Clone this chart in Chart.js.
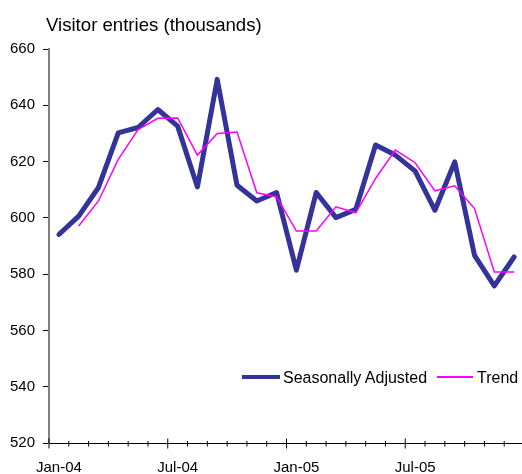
<!DOCTYPE html>
<html>
<head>
<meta charset="utf-8">
<script src="https://cdn.jsdelivr.net/npm/chart.js@4.4.1/dist/chart.umd.min.js"></script>
<style>
  html, body { margin: 0; padding: 0; background: #ffffff; overflow: hidden; width: 522px; height: 474px; }
  #wrap { position: absolute; left: 0; top: 0; width: 530px; height: 474px; }
  .txt { position: absolute; font-family: Arial, "Liberation Sans", sans-serif; color: #000; white-space: nowrap; }
  #title { left: 46px; top: 16px; font-size: 18.6px; line-height: 18px; }
  .leg { position: absolute; }
</style>
</head>
<body>
<div id="wrap"><canvas id="c"></canvas></div>
<div id="title" class="txt">Visitor entries (thousands)</div>
<div class="leg" style="left:242px; top:375px; width:38px; height:4px; background:#333399;"></div>
<div class="txt" style="left:283px; top:370px; font-size:16px; line-height:16px;">Seasonally Adjusted</div>
<div class="leg" style="left:437px; top:376px; width:36px; height:1.5px; background:#ff00ff;"></div>
<div class="txt" style="left:477px; top:370px; font-size:16px; line-height:16px;">Trend</div>
<script>
const months = ['Jan-04','Feb-04','Mar-04','Apr-04','May-04','Jun-04','Jul-04','Aug-04','Sep-04','Oct-04','Nov-04','Dec-04',
                'Jan-05','Feb-05','Mar-05','Apr-05','May-05','Jun-05','Jul-05','Aug-05','Sep-05','Oct-05','Nov-05','Dec-05'];
const seasonallyAdjusted = [594.1, 600.6, 610.8, 630.2, 632.1, 638.5, 632.6, 611.0, 649.2, 611.6, 606.0, 609.0,
                            581.4, 609.0, 600.1, 603.0, 625.9, 622.3, 616.6, 602.7, 619.9, 586.7, 575.8, 586.1];
const trend = [null, 597.1, 606.0, 620.8, 631.4, 635.4, 635.5, 622.3, 630.0, 630.5, 608.9, 607.5,
               595.3, 595.3, 603.9, 601.8, 614.0, 624.1, 619.6, 609.6, 611.4, 603.3, 580.8, 580.8];
const xTickLabels = ['Jan-04','Jul-04','Jan-05','Jul-05'];
const yMin = 520, yMax = 660, yStep = 20;

const FONT = 'Arial, "Liberation Sans", sans-serif';

const xTickMarks = {
  id: 'xTickMarks',
  afterDraw(chart) {
    const xs = chart.scales.x;
    const ctx = chart.ctx;
    const y0 = Math.round(xs.top) + 0.5;
    const step = xs.getPixelForValue(1) - xs.getPixelForValue(0);
    ctx.save();
    ctx.strokeStyle = '#000';
    ctx.lineWidth = 1;
    for (let i = 0; i <= months.length; i++) {
      const px = xs.getPixelForValue(i) - step / 2;
      const major = i % 6 === 0;
      ctx.beginPath();
      ctx.moveTo(px, y0 - (major ? 5 : 2.5));
      ctx.lineTo(px, y0 + (major ? 5 : 3));
      ctx.stroke();
    }
    ctx.restore();
  }
};

new Chart(document.getElementById('c'), {
  type: 'line',
  data: {
    labels: months,
    datasets: [
      {
        label: 'Seasonally Adjusted',
        data: seasonallyAdjusted,
        borderColor: '#333399',
        borderWidth: 5,
        pointRadius: 0,
        tension: 0,
        borderCapStyle: 'round',
        borderJoinStyle: 'round',
        order: 2
      },
      {
        label: 'Trend',
        data: trend,
        borderColor: '#ff00ff',
        borderWidth: 1.5,
        pointRadius: 0,
        tension: 0,
        spanGaps: false,
        order: 1
      }
    ]
  },
  options: {
    responsive: true,
    maintainAspectRatio: false,
    animation: false,
    events: [],
    layout: { padding: { top: 49, right: 6, bottom: 0, left: 0 } },
    plugins: { legend: { display: false }, title: { display: false }, tooltip: { enabled: false } },
    scales: {
      x: {
        type: 'category',
        offset: true,
        grid: { display: false, offset: true },
        border: { display: true, color: '#000', width: 1 },
        ticks: {
          autoSkip: false,
          maxRotation: 0,
          color: '#000',
          font: { family: FONT, size: 15 },
          padding: 8,
          callback: function(v, i) { const l = months[i]; return xTickLabels.includes(l) ? l : ''; }
        },
        afterFit(scale) { scale.height = 31; }
      },
      y: {
        min: yMin,
        max: yMax,
        grid: { drawOnChartArea: false, drawTicks: true, tickLength: 6, tickColor: '#000', tickWidth: 1 },
        border: { display: true, color: '#808080', width: 2 },
        ticks: {
          stepSize: yStep,
          color: '#000',
          font: { family: FONT, size: 15 },
          padding: 8
        },
        afterFit(scale) { scale.width = 49; }
      }
    }
  },
  plugins: [xTickMarks]
});
</script>
</body>
</html>
